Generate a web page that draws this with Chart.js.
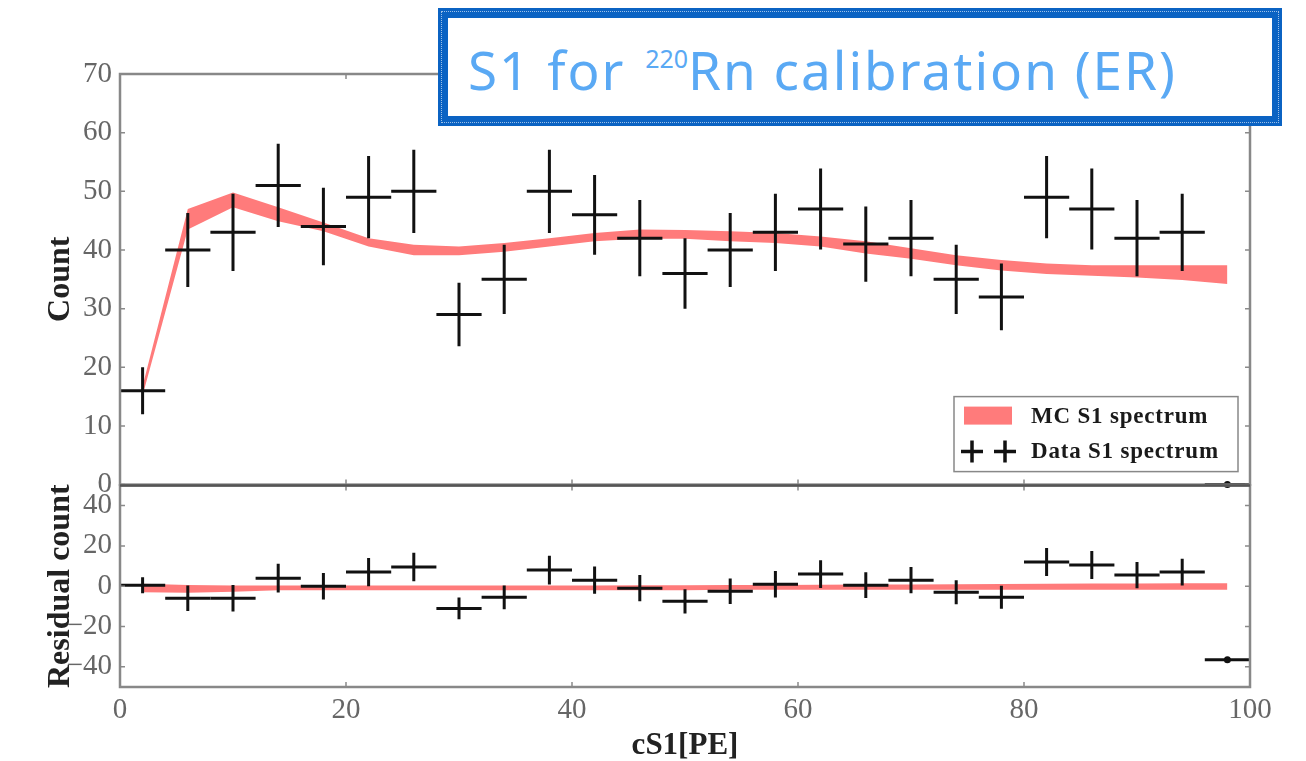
<!DOCTYPE html>
<html>
<head>
<meta charset="utf-8">
<script src="https://cdn.jsdelivr.net/npm/chart.js@4"></script>
<style>
  html, body { margin: 0; padding: 0; background: #fff; overflow: hidden; }
  #wrap { position: relative; width: 1306px; height: 761px; }
  canvas { position: absolute; left: 0; }
  #top { top: 0; }
  #bottom { top: 460px; }
  #title {
    position: absolute; left: 438px; top: 8px; width: 844px; height: 118px;
    box-sizing: border-box; border: 10px solid #0b63c3; background: #fff;
    outline: 1px dotted rgba(255,255,255,0.6); outline-offset: -4px;
    font-family: "Noto Sans", sans-serif; font-weight: 400; color: #5aa9f4;
    font-size: 53px; letter-spacing: 2px; line-height: 1; white-space: nowrap;
    padding: 25px 0 0 20px;
  }
  #title sup { font-size: 25px; vertical-align: 22px; margin-left: 4px; letter-spacing: 0; }
</style>
</head>
<body>
<div id="wrap">
  <canvas id="top" width="1306" height="510"></canvas>
  <canvas id="bottom" width="1306" height="301"></canvas>
  <div id="title">S1 for <sup>220</sup>Rn calibration (ER)</div>
</div>
<script>
// bins of 4 PE, centres
const binCenters = [2, 6, 10, 14, 18, 22, 26, 30, 34, 38, 42, 46, 50, 54, 58, 62, 66, 70, 74, 78, 82, 86, 90, 94, 98];
const binHalfWidth = 2;

// data S1 spectrum (counts and errors)
const dataCounts = [16, 40, 43, 51, 44, 49, 50, 29, 35, 50, 46, 42, 36, 40, 43, 47, 41, 42, 35, 32, 49, 47, 42, 43, 0];
const dataErrors = [4.0, 6.3, 6.6, 7.1, 6.6, 7.0, 7.1, 5.4, 5.9, 7.1, 6.8, 6.5, 6.0, 6.3, 6.6, 6.9, 6.4, 6.5, 5.9, 5.7, 7.0, 6.9, 6.5, 6.6, 0];

// MC S1 spectrum band
const mcLow  = [15.2, 43.5, 47.3, 44.9, 43.2, 40.6, 39.1, 39.1, 39.7, 40.6, 41.5, 41.9, 41.9, 41.5, 41.2, 40.6, 39.4, 38.5, 37.4, 36.5, 35.9, 35.6, 35.3, 34.9, 34.2];
const mcHigh = [16.8, 47.0, 49.8, 47.3, 44.7, 42.0, 40.9, 40.6, 41.2, 42.0, 42.9, 43.5, 43.4, 43.2, 42.9, 42.3, 41.5, 40.3, 39.1, 38.3, 37.7, 37.4, 37.4, 37.4, 37.4];

// residuals (data - MC)
const residuals = [0.5, -6, -6, 4, 0, 7, 9.5, -11, -5.5, 8, 3, -1, -7.5, -2.5, 1, 6, 0.5, 3, -3, -5.5, 12, 10.5, 5.5, 7, -36.5];
const residLow  = [-3.0, -3.2, -2.8, -2.0, -2.0, -2.0, -2.0, -2.0, -2.0, -2.0, -2.0, -2.0, -2.0, -1.8, -1.8, -1.8, -1.8, -1.8, -1.8, -1.8, -1.8, -1.8, -1.8, -1.8, -1.8];
const residHigh = [1.2, 0.6, 0.4, 0.4, 0.4, 0.4, 0.4, 0.4, 0.4, 0.4, 0.4, 0.5, 0.5, 0.6, 0.6, 0.7, 0.8, 0.9, 1.0, 1.1, 1.2, 1.3, 1.4, 1.5, 1.5];

// axes
const xTicks = [0, 20, 40, 60, 80, 100];
const countTicks = [0, 10, 20, 30, 40, 50, 60, 70];
const residTicks = [-40, -20, 0, 20, 40];

const bandColor = '#ff7b7b';
const serif = '"Liberation Serif", "DejaVu Serif", serif';

const pts = (ys) => binCenters.map((x, i) => ({ x: x, y: ys[i] }));
const fmt = (v) => (v < 0 ? '\u2212' + Math.abs(v) : String(v));

// error-bar crosses drawn through the chart scales
const crosses = {
  id: 'crosses',
  afterDatasetsDraw(chart) {
    const { ctx } = chart;
    const xs = chart.scales.x, ys = chart.scales.y;
    ctx.save();
    ctx.strokeStyle = '#111';
    ctx.fillStyle = '#111';
    ctx.lineWidth = 3;
    chart.data.datasets.forEach(ds => {
      if (!ds.errors) return;
      ds.data.forEach((p, j) => {
        const px = xs.getPixelForValue(p.x), py = ys.getPixelForValue(p.y);
        ctx.beginPath();
        ctx.moveTo(xs.getPixelForValue(p.x - binHalfWidth), py);
        ctx.lineTo(xs.getPixelForValue(p.x + binHalfWidth), py);
        const e = ds.errors[j];
        if (e > 0) {
          ctx.moveTo(px, ys.getPixelForValue(p.y - e));
          ctx.lineTo(px, ys.getPixelForValue(p.y + e));
        }
        ctx.stroke();
        if (e === 0) {
          ctx.beginPath();
          ctx.arc(px, py, 3.5, 0, Math.PI * 2);
          ctx.fill();
        }
      });
    });
    ctx.restore();
  }
};

// frame with inward ticks (matplotlib style)
const frame = {
  id: 'frame',
  afterDraw(chart, args, opts) {
    const { ctx, chartArea: a } = chart;
    const xs = chart.scales.x, ys = chart.scales.y;
    ctx.save();
    ctx.strokeStyle = '#8a8a8a';
    ctx.lineWidth = 1.5;
    ys.ticks.forEach(t => {
      const y = ys.getPixelForValue(t.value);
      ctx.beginPath();
      ctx.moveTo(a.left, y); ctx.lineTo(a.left + 5, y);
      ctx.moveTo(a.right, y); ctx.lineTo(a.right - 5, y);
      ctx.stroke();
    });
    xTicks.forEach(v => {
      const x = xs.getPixelForValue(v);
      ctx.beginPath();
      ctx.moveTo(x, a.top); ctx.lineTo(x, a.top + 5);
      ctx.moveTo(x, a.bottom); ctx.lineTo(x, a.bottom - 5);
      ctx.stroke();
    });
    ctx.lineWidth = 2.5;
    ctx.strokeStyle = '#888';
    ctx.strokeRect(a.left, a.top, a.right - a.left, a.bottom - a.top);
    if (opts.darkEdge) {
      ctx.strokeStyle = '#555';
      ctx.beginPath();
      const y = opts.darkEdge === 'top' ? a.top : a.bottom;
      ctx.moveTo(a.left, y); ctx.lineTo(a.right, y);
      ctx.stroke();
    }
    ctx.restore();
  }
};

// legend box in the lower right of the upper panel
const legendBox = {
  id: 'legendBox',
  afterDraw(chart) {
    const { ctx, chartArea: a } = chart;
    const L = a.right - 296, T = a.bottom - 88, W = 284, H = 75;
    ctx.save();
    ctx.fillStyle = '#fff';
    ctx.fillRect(L, T, W, H);
    ctx.strokeStyle = '#888';
    ctx.lineWidth = 1.5;
    ctx.strokeRect(L, T, W, H);
    ctx.fillStyle = bandColor;
    ctx.fillRect(L + 10, T + 10, 48, 18);
    ctx.strokeStyle = '#111';
    ctx.lineWidth = 3.5;
    [L + 18, L + 51].forEach(cx => {
      const cy = T + 55;
      ctx.beginPath();
      ctx.moveTo(cx - 11, cy); ctx.lineTo(cx + 11, cy);
      ctx.moveTo(cx, cy - 11); ctx.lineTo(cx, cy + 11);
      ctx.stroke();
    });
    ctx.fillStyle = '#1a1a1a';
    ctx.font = 'bold 23px ' + serif;
    ctx.letterSpacing = '0.8px';
    ctx.textBaseline = 'middle';
    ctx.fillText('MC S1 spectrum', L + 77, T + 20);
    ctx.fillText('Data S1 spectrum', L + 77, T + 55);
    ctx.restore();
  }
};

const yAxis = (min, max, ticks, title, titleSize) => ({
  type: 'linear', min: min, max: max,
  afterFit: s => { s.width = 120; },
  afterBuildTicks: s => { s.ticks = ticks.map(v => ({ value: v })); },
  grid: { display: false, drawTicks: false },
  border: { display: false },
  ticks: { padding: 8, color: '#666', font: { family: serif, size: 29 }, callback: fmt },
  title: { display: true, text: title, color: '#222', padding: { top: 42, bottom: 0 },
           font: { family: serif, size: titleSize, weight: 'bold' } }
});

const bandSet = (ys, fill) => ({
  data: pts(ys), borderWidth: 0, pointRadius: 0, fill: fill, tension: 0,
  backgroundColor: bandColor, borderColor: bandColor
});

new Chart(document.getElementById('top'), {
  type: 'line',
  data: {
    datasets: [
      bandSet(mcHigh, false),
      bandSet(mcLow, '-1'),
      { data: pts(dataCounts), errors: dataErrors, showLine: false, pointRadius: 0 }
    ]
  },
  options: {
    responsive: false, animation: false,
    layout: { padding: { top: 74, right: 56, bottom: 0, left: 0 } },
    plugins: { legend: { display: false }, tooltip: { enabled: false }, frame: {} },
    scales: {
      x: { type: 'linear', min: 0, max: 100, display: false },
      y: yAxis(0, 70, countTicks, 'Count', 32)
    }
  },
  plugins: [crosses, frame, legendBox]
});

new Chart(document.getElementById('bottom'), {
  type: 'line',
  data: {
    datasets: [
      bandSet(residHigh, false),
      bandSet(residLow, '-1'),
      { data: pts(residuals), errors: dataErrors.map((e, i) => (i === binCenters.length - 1 ? 0 : e)), showLine: false, pointRadius: 0 }
    ]
  },
  options: {
    responsive: false, animation: false,
    layout: { padding: { top: 0, right: 56, bottom: 0, left: 0 } },
    plugins: { legend: { display: false }, tooltip: { enabled: false }, frame: { darkEdge: 'top' } },
    scales: {
      x: {
        type: 'linear', min: 0, max: 100,
        afterFit: s => { s.height = 74; },
        afterBuildTicks: s => { s.ticks = xTicks.map(v => ({ value: v })); },
        grid: { display: false, drawTicks: false },
        border: { display: false },
        ticks: { padding: 6, color: '#666', maxRotation: 0, font: { family: serif, size: 29 } },
        title: { display: true, text: 'cS1[PE]', color: '#222', padding: 0,
                 font: { family: serif, size: 31, weight: 'bold', lineHeight: 1 } }
      },
      y: yAxis(-50, 50, residTicks, 'Residual count', 32)
    }
  },
  plugins: [crosses, frame]
});
</script>
</body>
</html>
